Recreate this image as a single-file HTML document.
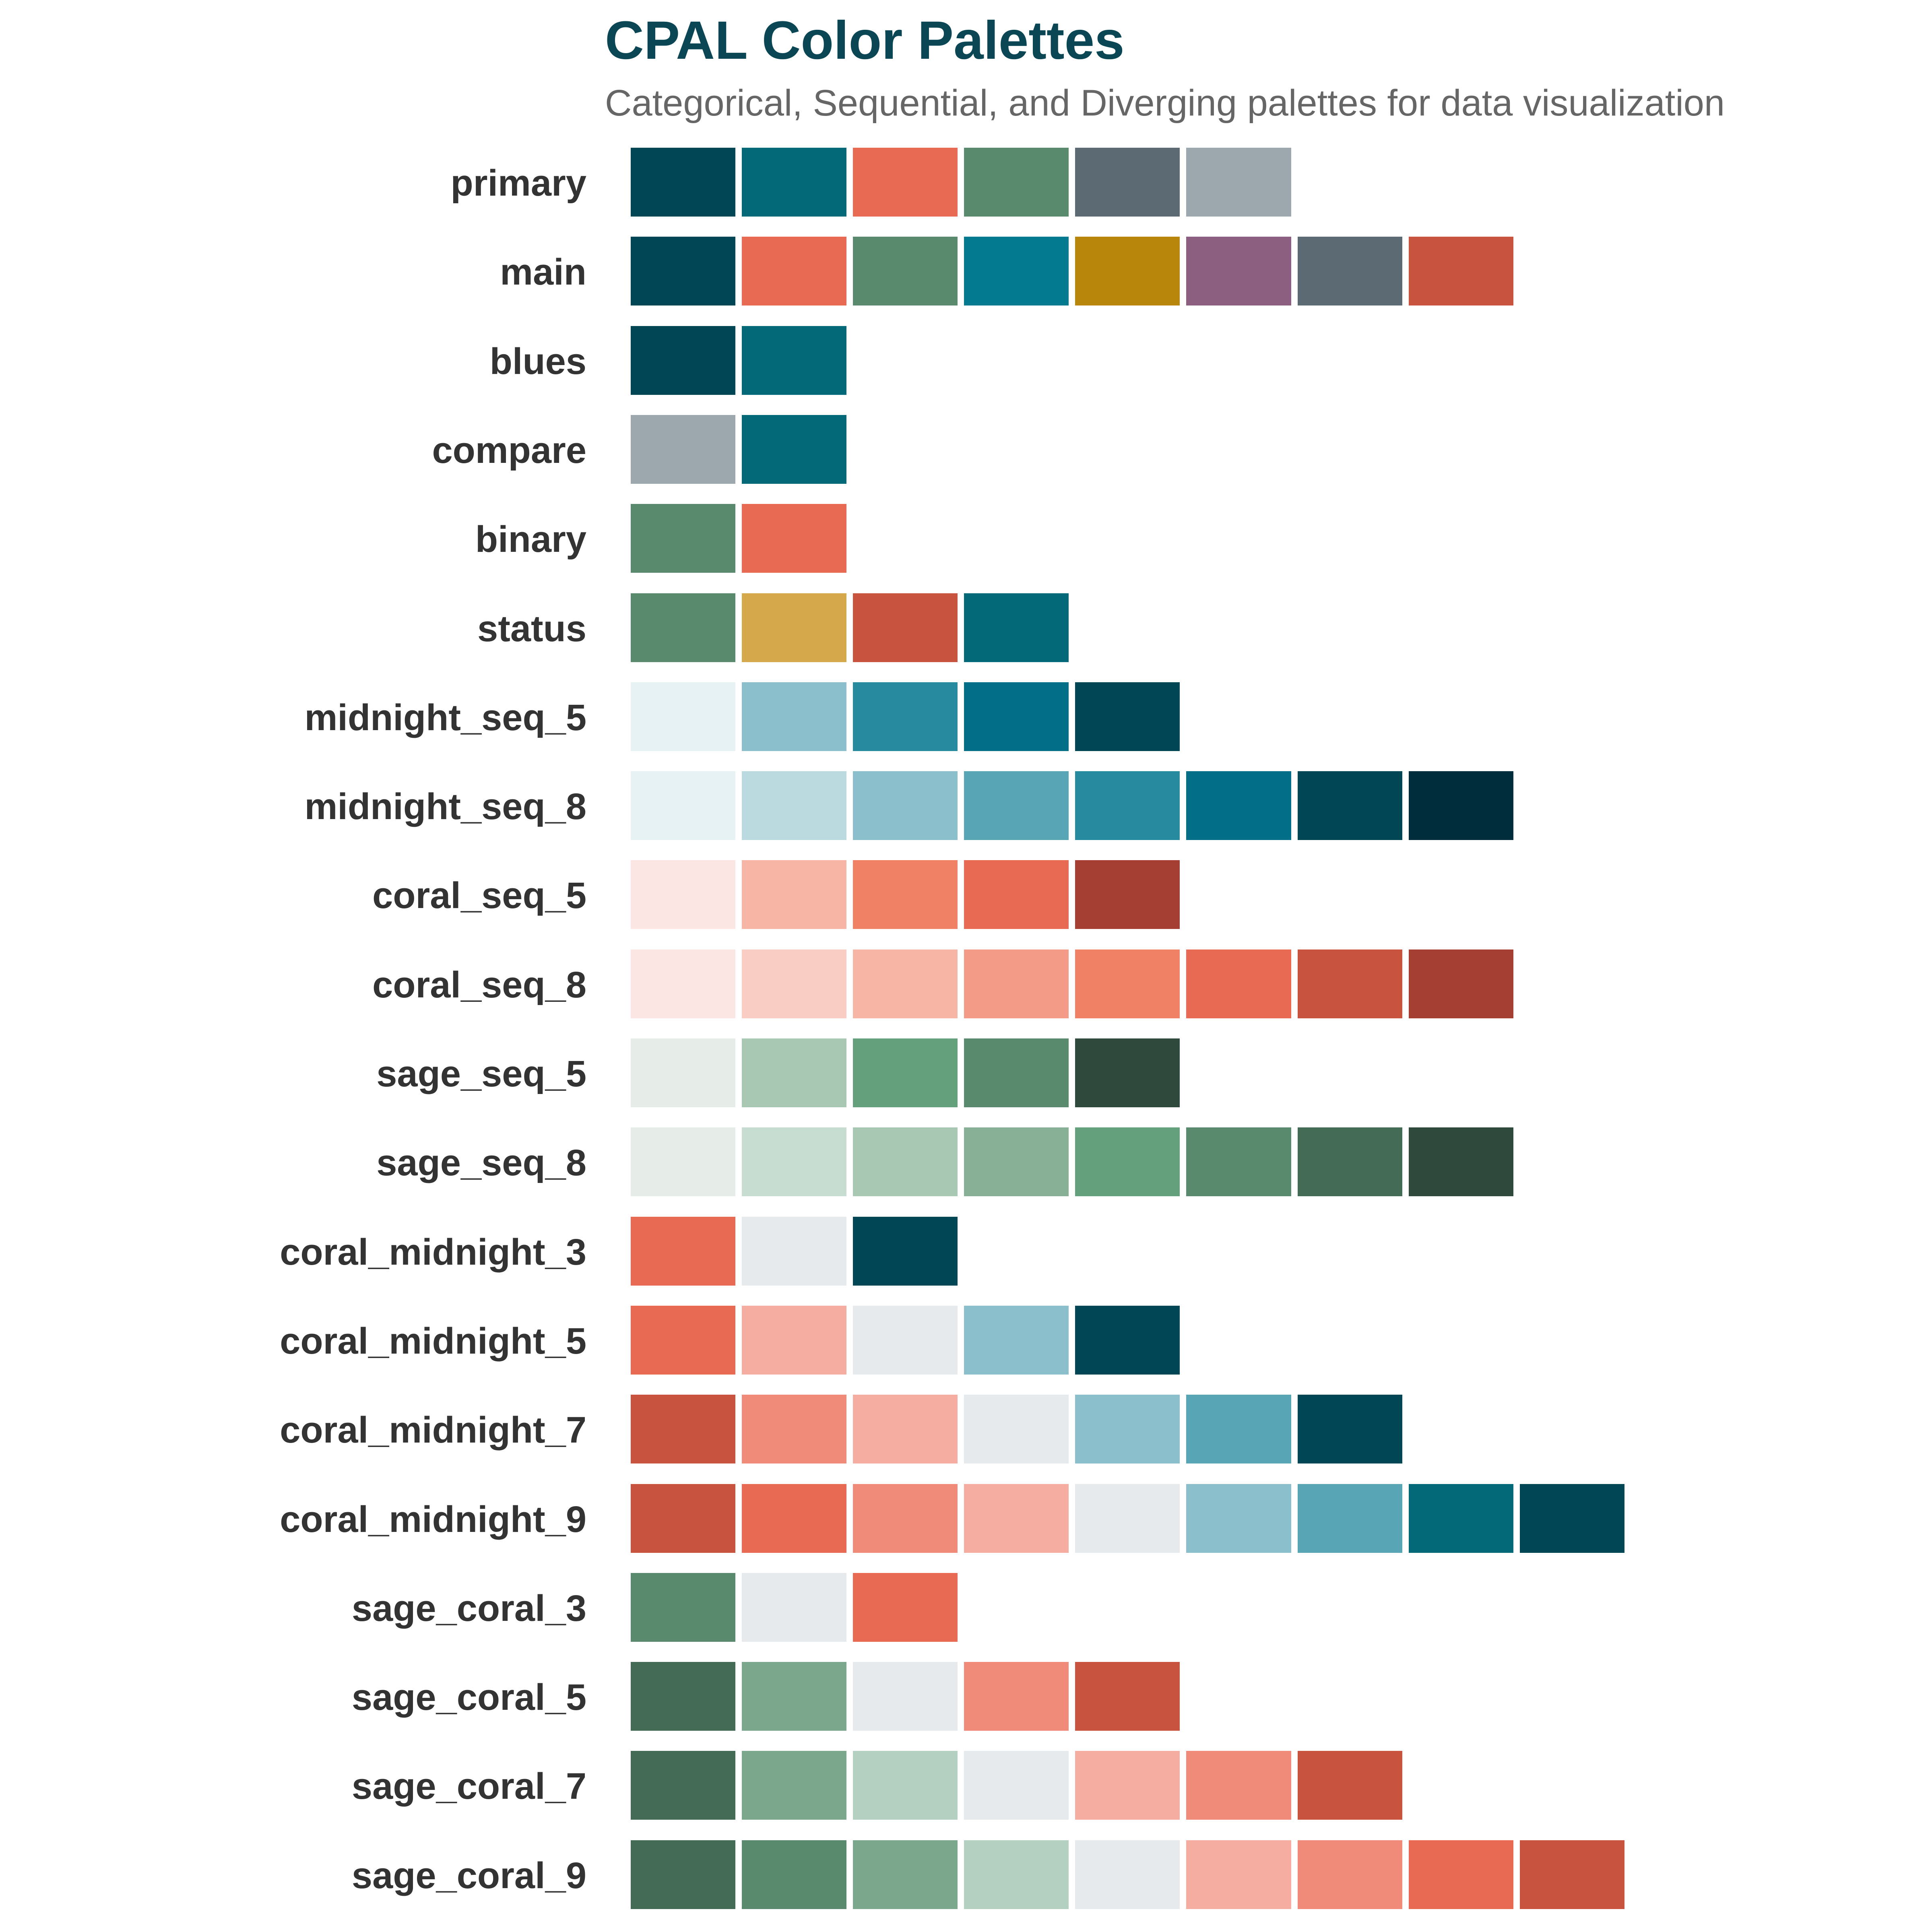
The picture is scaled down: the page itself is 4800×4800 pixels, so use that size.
<!DOCTYPE html>
<html><head><meta charset="utf-8"><style>
body{margin:0;width:4800px;height:4800px;background:#fff;position:relative;overflow:hidden;font-family:"Liberation Sans",Arial,sans-serif}
.t{position:absolute;left:1503px;top:34px;font-size:134px;line-height:134px;font-weight:bold;color:#0b4654;white-space:nowrap}
.s{position:absolute;left:1503px;top:210px;font-size:92px;line-height:92px;color:#666;white-space:nowrap}
.r{position:absolute;left:0;height:171px;width:4800px}
.l{position:absolute;right:3343px;top:3px;line-height:171px;font-size:92px;font-weight:bold;color:#333;white-space:nowrap}
.c{position:absolute;left:1567px;top:0;display:flex;gap:16px}
.c div{width:260.1px;height:171px}
</style></head><body>
<div class="t">CPAL Color Palettes</div>
<div class="s">Categorical, Sequential, and Diverging palettes for data visualization</div>
<div id="rows"></div>
<script>
var d=[
["primary",["#004654","#036878","#E86A52","#5A8A6E","#5C6A73","#9CA8AD"]],
["main",["#004654","#E86A52","#5A8A6E","#037A8F","#B8860B","#8C5E80","#5C6A73","#C85440"]],
["blues",["#004654","#036878"]],
["compare",["#9CA8AD","#036878"]],
["binary",["#5A8A6E","#E86A52"]],
["status",["#5A8A6E","#D4A84B","#C85440","#036878"]],
["midnight_seq_5",["#E6F2F4","#8BBFCB","#288A9E","#036E88","#004654"]],
["midnight_seq_8",["#E6F2F4","#BADAE0","#8BBFCB","#58A5B5","#288A9E","#036E88","#004654","#002D3C"]],
["coral_seq_5",["#FCE6E4","#F6B5A5","#F08164","#E86A52","#A53F33"]],
["coral_seq_8",["#FCE6E4","#F9CDC4","#F6B5A5","#F39B86","#F08164","#E86A52","#C85440","#A53F33"]],
["sage_seq_5",["#E6EDE9","#A8C8B4","#63A07B","#5A8A6E","#2F4A3C"]],
["sage_seq_8",["#E6EDE9","#C8DDD1","#A8C8B4","#87B096","#63A07B","#5A8A6E","#446B55","#2F4A3C"]],
["coral_midnight_3",["#E86A52","#E6EAED","#004654"]],
["coral_midnight_5",["#E86A52","#F4ADA0","#E6EAED","#8BBFCB","#004654"]],
["coral_midnight_7",["#C85440","#EF8B78","#F4ADA0","#E6EAED","#8BBFCB","#58A5B5","#004654"]],
["coral_midnight_9",["#C85440","#E86A52","#EF8B78","#F4ADA0","#E6EAED","#8BBFCB","#58A5B5","#036878","#004654"]],
["sage_coral_3",["#5A8A6E","#E6EAED","#E86A52"]],
["sage_coral_5",["#446B55","#7BA88C","#E6EAED","#EF8B78","#C85440"]],
["sage_coral_7",["#446B55","#7BA88C","#B4D0C0","#E6EAED","#F4ADA0","#EF8B78","#C85440"]],
["sage_coral_9",["#446B55","#5A8A6E","#7BA88C","#B4D0C0","#E6EAED","#F4ADA0","#EF8B78","#E86A52","#C85440"]]
];
var h="";
d.forEach(function(r,i){
h+='<div class="r" style="top:'+(367+i*221.3)+'px"><div class="l">'+r[0]+'</div><div class="c">';
r[1].forEach(function(c){h+='<div style="background:'+c+'"></div>';});
h+='</div></div>';
});
document.getElementById("rows").innerHTML=h;
</script>
</body></html>
